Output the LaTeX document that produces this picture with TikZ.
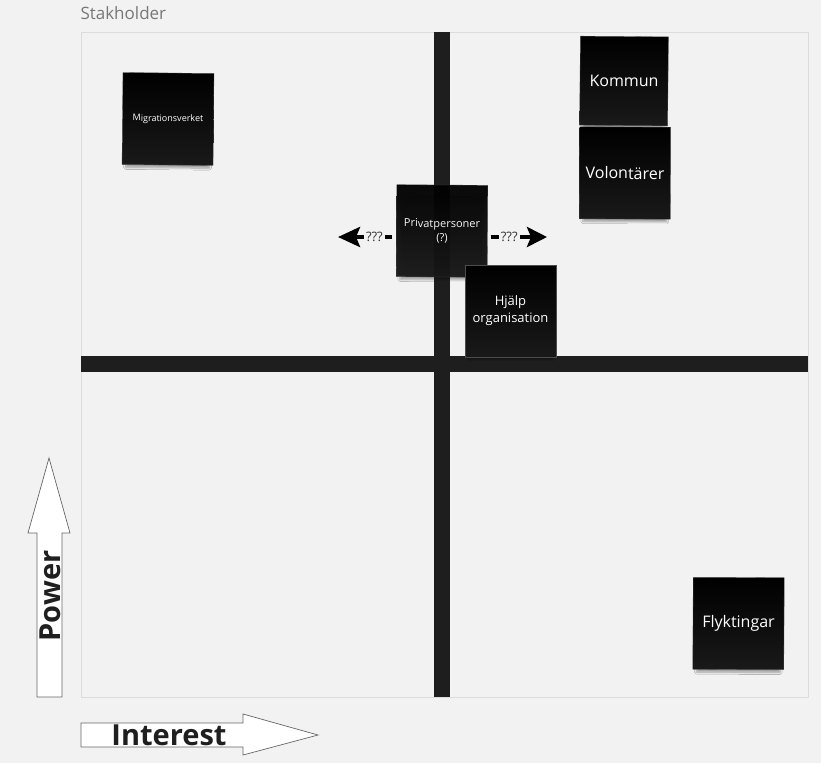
\documentclass[tikz,border=0pt]{standalone}
\usepackage{fontspec}
\setmainfont{Open Sans}
\usetikzlibrary{arrows.meta,shadows.blur}
\definecolor{bg}{HTML}{F2F2F2}
\definecolor{frame}{HTML}{DCDCDC}
\definecolor{bar}{HTML}{1E1E1E}
\definecolor{titlegray}{HTML}{777777}
\definecolor{arrowgray}{HTML}{666666}
\tikzset{
  note/.style={minimum width=91pt, minimum height=92pt, inner sep=2pt,
    top color=black, bottom color=black!90, draw=black!70, line width=0.3pt,
    text=white, align=center, font=\fontsize{16}{19}\selectfont,
    blur shadow={shadow xshift=0pt, shadow yshift=-7pt, shadow blur steps=8, shadow opacity=35, shadow scale=0.92}},
  bigarrow/.style={draw=arrowgray, fill=white, line width=0.7pt},
  axislabel/.style={font=\fontsize{29}{31}\selectfont\bfseries, text=black!88},
  qline/.style={line width=4pt, draw=black},
  qlabel/.style={fill=bg, inner sep=2pt, font=\fontsize{13}{15}\selectfont, text=black!80}
}
\begin{document}
\begin{tikzpicture}[x=1pt,y=-1pt]
\useasboundingbox (0,0) rectangle (821,763);
\fill[bg] (0,0) rectangle (821,763);
% title
\node[anchor=west, text=titlegray, font=\fontsize{17}{20}\selectfont] (title) at (77,13) {Stakholder};
% frame
\draw[frame, line width=1pt] (81,32) rectangle (808,697);
% quadrant bars
\fill[bar] (434,32) rectangle (450,697);
\fill[bar] (81,356) rectangle (808,372);
% notes
\node[note, rotate=-0.6, font=\fontsize{9}{11}\selectfont] (mig) at (168,119) {Migrationsverket};
\node[note, minimum width=88pt, minimum height=89pt, rotate=-0.5] (kom) at (624,81) {Kommun};
\node[note, rotate=-0.3] (vol) at (625,173) {Volontärer};
\node[note, opacity=0.96, rotate=-0.4, font=\fontsize{11}{14}\selectfont] (pp) at (442,231) {Privatpersoner\\(?)};
\node[note, font=\fontsize{13}{17}\selectfont] (hj) at (510.5,311) {Hjälp\\organisation};
\node[note, rotate=-0.3] (fly) at (738.5,623.5) {Flyktingar};
% ??? arrows
\coordinate (lend) at (338,237);
\coordinate (rend) at (547,237);
\draw[qline, -{Stealth[length=22pt,width=20pt,inset=4pt]}] ([xshift=-4pt]pp.west |- lend) -- (lend)
  node[qlabel, pos=0.33] (ql) {???};
\draw[qline, -{Stealth[length=20pt,width=20pt,inset=4pt]}] ([xshift=3pt]pp.east |- rend) -- (rend)
  node[qlabel, pos=0.33] (qr) {???};
% Power arrow
\draw[bigarrow] (37,697) -- (37,533) -- (28,533) -- (49,458) -- (70,533) -- (62,533) -- (62,697) -- cycle;
\node[axislabel, rotate=90] (power) at (50,596) {Power};
% Interest arrow
\draw[bigarrow] (81,723) -- (243,723) -- (243,714) -- (318,735) -- (243,755) -- (243,747) -- (81,747) -- cycle;
\node[axislabel] (interest) at (169,735) {Interest};
\end{tikzpicture}
\end{document}
